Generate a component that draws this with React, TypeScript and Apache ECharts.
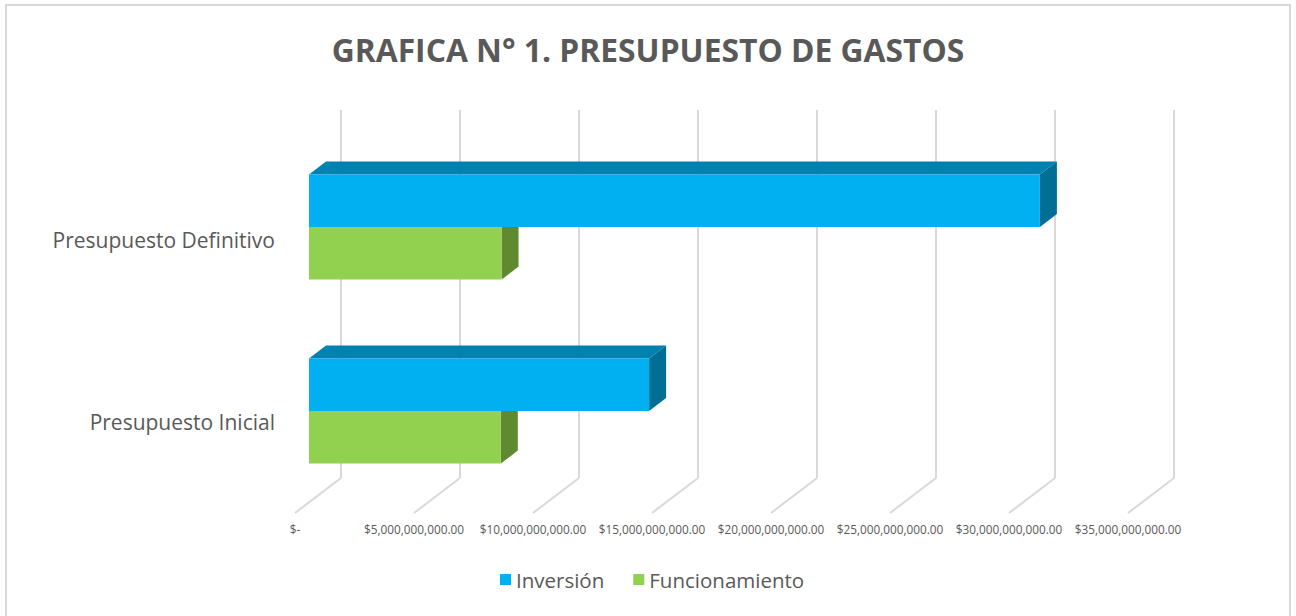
import React, { useEffect, useRef } from "react";
import * as echarts from "echarts";

const titleText = "GRAFICA N° 1. PRESUPUESTO DE GASTOS";
const categories = ["Presupuesto Inicial", "Presupuesto Definitivo"];
const seriesNames = ["Inversión", "Funcionamiento"];
const inversion = [14.29e9, 30.71e9];
const funcionamiento = [8.06e9, 8.09e9];
const tickValues = [0, 5e9, 10e9, 15e9, 20e9, 25e9, 30e9, 35e9];

const FONT = "'Open Sans', 'Noto Sans', sans-serif";
const TEXT = "#595959";
const GRID = "#d9d9d9";
const DEPTH_X = 17;
const DEPTH_Y = 13;
const FLOOR_DX = -46;
const FLOOR_DY = 35;

const colors = {
  inv: { front: "#00B0F0", top: "#0082B0", side: "#006E95" },
  fun: { front: "#92D050", top: "#7AB03E", side: "#5F8A30" },
};

function fmtMoney(v: number): string {
  if (v === 0) return "$-";
  const s = Math.round(v).toString().replace(/\B(?=(\d{3})+(?!\d))/g, ",");
  return "$" + s + ".00";
}

function makeBarRender(pal: { front: string; top: string; side: string }, upper: boolean) {
  return (params: any, api: any) => {
    const val = api.value(0);
    const cat = api.value(1);
    const p0 = api.coord([0, cat]);
    const p1 = api.coord([val, cat]);
    const band = api.size([0, 1])[1];
    const h = band * 0.286;
    const x0 = p0[0];
    const x1 = p1[0];
    const yTop = upper ? p0[1] - h : p0[1];
    const yBot = yTop + h;
    return {
      type: "group",
      children: [
        {
          type: "polygon",
          shape: {
            points: [
              [x0, yTop],
              [x1, yTop],
              [x1 + DEPTH_X, yTop - DEPTH_Y],
              [x0 + DEPTH_X, yTop - DEPTH_Y],
            ],
          },
          style: { fill: pal.top },
        },
        {
          type: "polygon",
          shape: {
            points: [
              [x1, yTop],
              [x1 + DEPTH_X, yTop - DEPTH_Y],
              [x1 + DEPTH_X, yBot - DEPTH_Y],
              [x1, yBot],
            ],
          },
          style: { fill: pal.side },
        },
        {
          type: "rect",
          shape: { x: x0, y: yTop, width: x1 - x0, height: h },
          style: { fill: pal.front },
        },
      ],
    };
  };
}

export default function App() {
  const ref = useRef<HTMLDivElement>(null);
  useEffect(() => {
    if (!ref.current) return;
    const chart = echarts.init(ref.current, undefined, { renderer: "svg" });
    const invData = inversion.map((v, i) => [v, i]);
    const funData = funcionamiento.map((v, i) => [v, i]);
    const option: any = {
      animation: false,
      backgroundColor: "#ffffff",
      title: {
        text: titleText,
        left: "center",
        top: 28,
        textStyle: { fontFamily: FONT, fontSize: 31.8, fontWeight: "bold", color: TEXT },
      },
      legend: {
        data: seriesNames,
        left: 495,
        top: 564,
        icon: "rect",
        itemWidth: 11,
        itemHeight: 11,
        itemGap: 29,
        textStyle: { fontFamily: FONT, fontSize: 20.5, color: TEXT },
      },
      graphic: [
        {
          type: "rect",
          shape: { x: 6, y: 5, width: 1284, height: 640 },
          style: { fill: "none", stroke: "#d9d9d9", lineWidth: 2 },
          silent: true,
          z: -1,
        },
      ],
      grid: [
        { left: 309, top: 135, width: 833, height: 368 },
        { left: 341, top: 110, width: 833, height: 368 },
        { left: 295, top: 500, width: 833, height: 14 },
        { left: 309, top: 149, width: 833, height: 364 },
      ],
      xAxis: [
        { gridIndex: 0, type: "value", min: 0, max: 35e9, interval: 5e9, show: false },
        {
          gridIndex: 1,
          type: "value",
          min: 0,
          max: 35e9,
          interval: 5e9,
          axisLine: { show: false },
          axisTick: { show: false },
          axisLabel: { show: false },
          splitLine: { show: true, lineStyle: { color: GRID, width: 2 } },
        },
        {
          gridIndex: 2,
          type: "value",
          min: 0,
          max: 35e9,
          interval: 5e9,
          axisLine: { show: false },
          axisTick: { show: false },
          splitLine: { show: false },
          axisLabel: {
            margin: 9,
            formatter: (v: number) => fmtMoney(v),
            fontFamily: FONT,
            fontSize: 11.8,
            color: TEXT,
            showMinLabel: true,
            showMaxLabel: true,
          },
        },
        { gridIndex: 3, type: "value", min: 0, max: 35e9, show: false },
      ],
      yAxis: [
        { gridIndex: 0, type: "category", data: categories, show: false },
        { gridIndex: 1, type: "value", min: 0, max: 1, show: false },
        { gridIndex: 2, type: "value", min: 0, max: 1, show: false },
        {
          gridIndex: 3,
          type: "category",
          data: categories,
          axisLine: { show: false },
          axisTick: { show: false },
          splitLine: { show: false },
          axisLabel: { margin: 34, fontFamily: FONT, fontSize: 21, color: TEXT },
        },
      ],
      series: [
        {
          type: "custom",
          name: "floor",
          xAxisIndex: 1,
          yAxisIndex: 1,
          silent: true,
          data: tickValues.map((v) => [v, 0]),
          renderItem: (params: any, api: any) => {
            const p = api.coord([api.value(0), 0]);
            return {
              type: "line",
              shape: { x1: p[0], y1: p[1], x2: p[0] + FLOOR_DX, y2: p[1] + FLOOR_DY },
              style: { stroke: GRID, lineWidth: 2 },
            };
          },
          z: 1,
        },
        {
          type: "custom",
          name: seriesNames[1],
          xAxisIndex: 0,
          yAxisIndex: 0,
          itemStyle: { color: colors.fun.front },
          data: funData,
          encode: { x: 0, y: 1 },
          renderItem: makeBarRender(colors.fun, false),
          z: 2,
        },
        {
          type: "custom",
          name: seriesNames[0],
          xAxisIndex: 0,
          yAxisIndex: 0,
          itemStyle: { color: colors.inv.front },
          data: invData,
          encode: { x: 0, y: 1 },
          renderItem: makeBarRender(colors.inv, true),
          z: 3,
        },
      ],
    };
    chart.setOption(option);
    return () => chart.dispose();
  }, []);
  return (
    <div
      ref={ref}
      style={{ position: "fixed", left: 0, top: 0, width: 1296, height: 616 }}
    />
  );
}
